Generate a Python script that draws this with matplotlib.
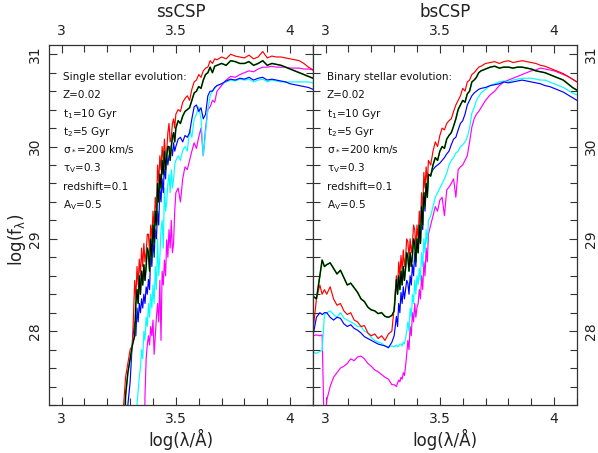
import matplotlib
matplotlib.use("Agg")
import matplotlib.pyplot as plt
from matplotlib.ticker import MultipleLocator

plt.rcParams['font.family'] = ['DejaVu Sans']
plt.rcParams['mathtext.default'] = 'regular'

# ---------------- left panel (ssCSP) ----------------
x_left = [3.26, 3.27, 3.28, 3.29, 3.30, 3.31, 3.32,
          3.325, 3.33, 3.335, 3.34, 3.345, 3.35, 3.355, 3.36, 3.365, 3.37, 3.375, 3.38,
          3.385, 3.39, 3.395, 3.40, 3.405, 3.41, 3.415, 3.42, 3.425, 3.43, 3.435, 3.44,
          3.445, 3.45, 3.455, 3.46, 3.465, 3.47, 3.475, 3.48, 3.485, 3.49, 3.495, 3.50,
          3.51, 3.52, 3.53, 3.54, 3.55, 3.56, 3.57, 3.58, 3.59, 3.60, 3.61, 3.62, 3.63,
          3.64, 3.65, 3.66, 3.67, 3.68,
          3.70, 3.72, 3.74, 3.76, 3.78, 3.80, 3.82, 3.84, 3.86, 3.88, 3.90, 3.92, 3.94,
          3.96, 3.98, 4.00, 4.02, 4.04, 4.06, 4.08, 4.10]
ss_red = [26.0, 27.15, 27.5, 27.65, 27.8, 27.85, 28.55,
          28.35, 28.7, 28.5, 28.78, 28.6, 28.9, 28.7, 28.95, 28.75, 28.85, 29.05, 29.05,
          28.85, 29.15, 29.0, 29.3, 29.1, 29.45, 29.3, 29.8, 29.6, 29.9, 29.75, 30.0,
          29.85, 30.08, 29.9, 29.95, 30.15, 30.25, 30.05, 30.1, 30.25, 30.3, 30.2, 30.35,
          30.4, 30.38, 30.48, 30.52, 30.55, 30.5, 30.62, 30.7, 30.72, 30.78, 30.75, 30.82, 30.85,
          30.86, 30.93, 30.9, 30.95, 30.94,
          30.97, 30.95, 31.0, 30.98, 30.97, 30.96, 30.99, 30.95, 30.97, 31.03, 30.96, 30.98, 30.97,
          30.97, 30.96, 30.95, 30.94, 30.93, 30.9, 30.86, 30.83]
ss_black = [26.0, 26.5, 27.3, 27.55, 27.7, 27.85, 27.95,
            28.3, 28.45, 28.3, 28.6, 28.4, 28.65, 28.5, 28.72, 28.55, 28.7, 28.9, 28.85,
            28.65, 29.0, 28.8, 29.15, 28.95, 29.3, 29.15, 29.6, 29.4, 29.7, 29.55, 29.85,
            29.7, 29.95, 29.75, 29.9, 30.0, 30.0, 29.85, 30.0, 30.1, 30.15, 30.05, 30.2,
            30.28, 30.25, 30.33, 30.38, 30.4, 30.42, 30.5, 30.58, 30.6, 30.65, 30.63, 30.72, 30.78,
            30.8, 30.86, 30.8, 30.87, 30.88,
            30.9, 30.88, 30.93, 30.92, 30.9, 30.9, 30.92, 30.88, 30.9, 30.93, 30.88, 30.9, 30.89,
            30.88, 30.86, 30.84, 30.82, 30.8, 30.78, 30.76, 30.74]
ss_blue = [26.0, 26.0, 26.5, 27.2, 27.45, 27.9, 28.1,
           27.95, 28.25, 28.1, 28.3, 28.2, 28.35, 28.25, 28.4, 28.3, 28.48, 28.4, 28.56,
           28.45, 28.85, 28.7, 29.0, 28.8, 29.1, 29.0, 29.3, 29.15, 29.55, 29.4, 29.65,
           29.5, 29.8, 29.65, 29.93, 29.8, 29.9, 29.95, 30.0, 29.9, 30.04, 29.95, 30.0,
           30.08, 30.1, 30.05, 30.12, 30.1, 30.15, 30.3, 30.43, 30.45, 30.38, 30.42, 30.3, 30.35,
           30.55, 30.6, 30.6, 30.64, 30.66,
           30.68, 30.71, 30.73, 30.72, 30.74, 30.73, 30.75, 30.72, 30.74, 30.75, 30.72, 30.73, 30.72,
           30.71, 30.7, 30.68, 30.67, 30.66, 30.65, 30.64, 30.62]
ss_cyan = [26.0, 26.0, 26.0, 26.0, 26.0, 26.0, 26.5,
           26.9, 27.2, 27.35, 27.5, 27.6, 27.8, 27.7, 28.0, 27.9, 28.15, 28.05, 28.3,
           28.15, 28.4, 28.25, 28.5, 28.3, 28.7, 28.45, 29.0, 28.6, 28.8, 29.1, 29.2,
           28.9, 29.55, 29.3, 29.4, 29.6, 29.7, 29.5, 29.75, 29.55, 29.65, 29.8, 29.85,
           29.9, 29.85, 29.96, 30.0, 29.95, 30.18, 30.1, 30.3, 30.35, 30.43, 30.3, 29.9, 30.15,
           30.4, 30.55, 30.6, 30.63, 30.66,
           30.68, 30.7, 30.72, 30.71, 30.73, 30.72, 30.73, 30.7, 30.72, 30.73, 30.7, 30.72, 30.71,
           30.7, 30.7, 30.7, 30.7, 30.7, 30.7, 30.7, 30.69]
ss_magenta = [26.0, 26.0, 26.0, 26.0, 26.0, 26.0, 26.0,
              26.0, 26.0, 26.0, 26.0, 26.0, 26.0, 26.0, 26.5, 27.3, 27.7, 27.85, 27.95,
              27.85, 28.05, 27.95, 28.12, 27.75, 27.95, 28.15, 28.3, 28.1, 28.55, 27.9, 28.65,
              28.5, 28.77, 28.6, 28.99, 28.8, 29.1, 28.9, 29.2, 28.85, 28.95, 29.3, 29.5,
              29.55, 29.4, 29.65, 29.78, 29.75, 29.85, 29.95, 30.04, 29.98, 30.1, 30.2, 29.9, 30.2,
              30.4, 30.43, 30.5, 30.48, 30.6,
              30.66, 30.72, 30.76, 30.75, 30.78, 30.8, 30.82, 30.81, 30.84, 30.86, 30.86, 30.87, 30.86,
              30.86, 30.86, 30.85, 30.85, 30.85, 30.84, 30.84, 30.83]

# ---------------- right panel (bsCSP) ----------------
x_right = [2.945, 2.96, 2.975, 2.985, 2.995, 3.005, 3.02, 3.035, 3.05, 3.065, 3.08, 3.095, 3.11,
           3.125, 3.14, 3.155, 3.17, 3.185, 3.20, 3.215, 3.23, 3.245, 3.26, 3.275, 3.29, 3.30,
           3.31, 3.315, 3.32, 3.325, 3.33, 3.335, 3.34, 3.345, 3.35, 3.355, 3.36, 3.365, 3.37,
           3.375, 3.38, 3.385, 3.39, 3.395, 3.40, 3.405, 3.41, 3.415, 3.42, 3.425, 3.43, 3.435,
           3.44, 3.445, 3.45,
           3.46, 3.47, 3.48, 3.49, 3.50, 3.51, 3.52, 3.53, 3.54, 3.55, 3.56, 3.57, 3.58, 3.59,
           3.60, 3.61, 3.62, 3.63, 3.64, 3.65, 3.66, 3.67, 3.68,
           3.70, 3.72, 3.74, 3.76, 3.78, 3.80, 3.82, 3.84, 3.86, 3.88, 3.90, 3.92, 3.94, 3.96,
           3.98, 4.00, 4.02, 4.04, 4.06, 4.08, 4.10]
bs_red = [28.0, 28.35, 28.5, 28.4, 28.45, 28.4, 28.48, 28.35, 28.28, 28.3, 28.22, 28.18, 28.2,
          28.12, 28.1, 28.05, 28.06, 27.98, 27.95, 27.97, 27.92, 27.95, 27.9, 27.97, 28.0, 28.25,
          28.6, 28.45, 28.75, 28.6, 28.82, 28.65, 28.88, 28.7, 28.8, 29.0, 28.97, 28.8, 29.0,
          28.85, 28.95, 29.15, 29.1, 28.9, 29.15, 29.0, 29.3, 29.1, 29.5, 29.3, 29.72, 29.55,
          29.78, 29.6, 29.85,
          29.8, 29.95, 30.05, 30.0, 30.12, 30.2, 30.18, 30.25, 30.28, 30.3, 30.38, 30.45, 30.5, 30.55,
          30.63, 30.6, 30.7, 30.72, 30.78, 30.8, 30.83, 30.86, 30.87,
          30.9, 30.91, 30.92, 30.9, 30.92, 30.93, 30.91, 30.92, 30.93, 30.92, 30.91, 30.9, 30.88, 30.87,
          30.85, 30.83, 30.81, 30.79, 30.76, 30.73, 30.70]
bs_black = [28.38, 28.35, 28.6, 28.77, 28.7, 28.72, 28.74, 28.68, 28.62, 28.66, 28.58, 28.5, 28.52,
            28.47, 28.42, 28.35, 28.32, 28.26, 28.23, 28.22, 28.19, 28.2, 28.16, 28.15, 28.17, 28.22,
            28.56, 28.4, 28.6, 28.45, 28.65, 28.5, 28.7, 28.55, 28.68, 28.85, 28.8, 28.65, 28.85,
            28.7, 28.82, 29.0, 28.95, 28.75, 29.0, 28.85, 29.15, 28.95, 29.35, 29.15, 29.5, 29.35,
            29.6, 29.45, 29.7,
            29.68, 29.8, 29.88, 29.85, 29.95, 30.0, 29.98, 30.08, 30.12, 30.15, 30.22, 30.3, 30.4, 30.45,
            30.5, 30.48, 30.57, 30.6, 30.7, 30.72, 30.75, 30.8, 30.82,
            30.84, 30.86, 30.87, 30.85, 30.86, 30.86, 30.85, 30.86, 30.86, 30.85, 30.84, 30.82, 30.81, 30.8,
            30.78, 30.76, 30.74, 30.72, 30.68, 30.64, 30.61]
bs_blue = [27.95, 28.15, 28.2, 28.18, 28.2, 28.2, 28.15, 28.12, 28.15, 28.14, 28.08, 28.05, 28.07,
           28.03, 28.01, 27.98, 27.94, 27.92, 27.9, 27.88, 27.86, 27.85, 27.84, 27.82, 27.88, 27.95,
           28.16, 28.05, 28.3, 28.2, 28.42, 28.3, 28.48, 28.35, 28.45, 28.55, 28.52, 28.4, 28.6,
           28.5, 28.72, 28.6, 28.85, 28.7, 29.0, 28.85, 29.1, 28.95, 29.2, 29.1, 29.45, 29.3,
           29.6, 29.5, 29.68,
           29.7, 29.75, 29.78, 29.8, 29.82, 29.85, 29.88, 29.92, 29.95, 30.02, 30.08, 30.1, 30.18, 30.25,
           30.28, 30.35, 30.45, 30.5, 30.55, 30.58, 30.6, 30.62, 30.63,
           30.64, 30.66, 30.67, 30.68, 30.7, 30.69, 30.7, 30.71, 30.72, 30.71, 30.7, 30.69, 30.68, 30.66,
           30.65, 30.63, 30.61, 30.59, 30.56, 30.53, 30.5]
bs_cyan = [27.77, 27.76, 27.78, 27.79, 28.18, 28.2, 28.22, 28.18, 28.15, 28.2, 28.14, 28.12, 28.1,
           28.08, 28.05, 28.05, 28.0, 27.98, 27.93, 27.9, 27.88, 27.87, 27.84, 27.83, 27.84, 27.83,
           27.85, 27.83, 27.84, 27.86, 27.86, 27.84, 27.88, 27.86, 27.92, 28.0, 28.1, 28.0, 28.25,
           28.15, 28.4, 28.3, 28.55, 28.4, 28.6, 28.5, 28.68, 28.55, 28.85, 28.7, 29.0, 28.85,
           29.1, 28.95, 29.2,
           29.25, 29.35, 29.45, 29.5, 29.55, 29.6, 29.65, 29.71, 29.8, 29.85, 29.88, 29.93, 29.95, 30.0,
           30.02, 30.05, 30.1, 30.2, 30.36, 30.42, 30.5, 30.54, 30.58,
           30.62, 30.66, 30.68, 30.7, 30.71, 30.7, 30.72, 30.73, 30.74, 30.74, 30.74, 30.73, 30.72, 30.72,
           30.7, 30.68, 30.66, 30.64, 30.61, 30.58, 30.56]
bs_magenta = [27.95, 27.96, 27.95, 27.96, 26.8, 27.25, 27.4, 27.5, 27.55, 27.6, 27.62, 27.65, 27.7,
              27.68, 27.72, 27.73, 27.7, 27.65, 27.62, 27.58, 27.56, 27.53, 27.5, 27.48, 27.42, 27.42,
              27.40, 27.44, 27.47, 27.45, 27.5, 27.48, 27.55, 27.52, 27.62, 27.75, 27.9, 27.8, 28.05,
              27.95, 28.2, 28.1, 28.3, 28.15, 28.26, 28.3, 28.45, 28.35, 28.6, 28.45, 28.75, 28.6,
              28.9, 28.75, 29.05,
              29.15, 29.25, 29.35, 29.3, 29.42, 29.45, 29.25, 29.53, 29.56, 29.6, 29.65, 29.45, 29.75, 29.78,
              29.8, 29.85, 29.9, 30.05, 30.21, 30.3, 30.35, 30.38, 30.42,
              30.5, 30.56, 30.6, 30.66, 30.7, 30.72, 30.74, 30.76, 30.78, 30.8, 30.82, 30.83, 30.85, 30.84,
              30.83, 30.82, 30.8, 30.78, 30.76, 30.73, 30.70]

titles = ["ssCSP", "bsCSP"]
info_header = ["Single stellar evolution:", "Binary stellar evolution:"]
info_lines = ["Z=0.02", "t$_1$=10 Gyr", "t$_2$=5 Gyr", r"$\sigma_*$=200 km/s",
              r"$\tau_V$=0.3", "redshift=0.1", "A$_V$=0.5"]
x_ticks = [3, 3.5, 4]
x_ticklabels = ["3", "3.5", "4"]
y_ticks = [28, 29, 30, 31]

fig = plt.figure(figsize=(5.98, 4.53), dpi=100)
W, H = 598.0, 453.0
axL = fig.add_axes([49 / W, 1 - 405 / H, 264 / W, 360 / H])
axR = fig.add_axes([313 / W, 1 - 405 / H, 264 / W, 360 / H])

panels = [
    (axL, x_left, ss_red, ss_black, ss_blue, ss_cyan, ss_magenta),
    (axR, x_right, bs_red, bs_black, bs_blue, bs_cyan, bs_magenta),
]
lw = 0.85
for i, (ax, xs, r, k, b, c, m) in enumerate(panels):
    ax.plot(xs, m, color="#ff00ff", lw=lw)
    ax.plot(xs, c, color="#00ffff", lw=lw)
    ax.plot(xs, b, color="#0000ff", lw=lw)
    ax.plot(xs, r, color="#ff0000", lw=lw)
    ax.plot(xs, k, color="#00b000", lw=1.2)
    ax.plot(xs, k, color="#000000", lw=0.8)
    ax.set_xlim(2.945, 4.10)
    ax.set_ylim(27.2, 31.1)
    ax.xaxis.set_minor_locator(MultipleLocator(0.1))
    ax.yaxis.set_minor_locator(MultipleLocator(0.2))
    ax.set_xticks(x_ticks)
    ax.set_xticklabels(x_ticklabels)
    ax.set_yticks(y_ticks)
    ax.tick_params(which="both", direction="in", top=True, bottom=True, left=True, right=True,
                   labeltop=True, labelbottom=True, width=0.8, colors="#333333",
                   labelcolor="#222222", labelsize=10, pad=5)
    ax.tick_params(which="major", length=6)
    ax.tick_params(which="minor", length=5)
    for s in ax.spines.values():
        s.set_linewidth(0.9)
        s.set_color("#333333")
    ax.set_xlabel("log(λ/Å)", fontsize=12, color="#222222", labelpad=2)
    ax.set_title(titles[i], fontsize=12, color="#222222", pad=20)
    ax.text(0.052, 0.911, info_header[i], transform=ax.transAxes, fontsize=7.5,
            color="#111111", va="center", ha="left")
    for j, line in enumerate(info_lines):
        ax.text(0.052, 0.911 - (j + 1) * 0.0508, line, transform=ax.transAxes,
                fontsize=7.5, color="#111111", va="center", ha="left")

axL.tick_params(axis="y", labelleft=True, labelright=False)
axR.tick_params(axis="y", labelleft=False, labelright=True)
for ax in (axL, axR):
    for lab in ax.get_yticklabels():
        lab.set_rotation(90)
        lab.set_va("center")
axL.set_ylabel("log(f$_λ$)", fontsize=12, color="#222222")
axL.yaxis.set_label_coords(-0.08, 0.46)

fig.savefig("out.png", dpi=100)
